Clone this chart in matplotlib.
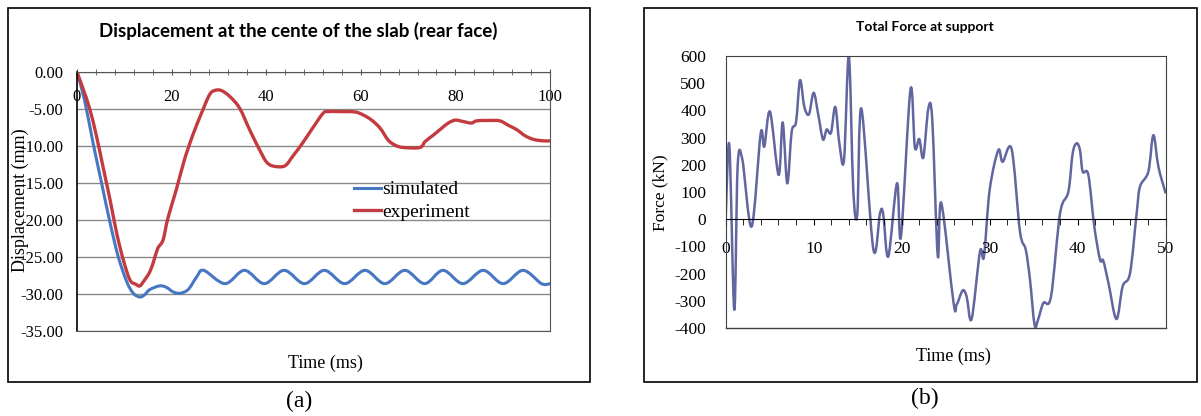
import numpy as np
import matplotlib.pyplot as plt
from matplotlib.path import Path
from matplotlib.patches import PathPatch, Rectangle
from matplotlib.lines import Line2D

plt.rcParams['font.family'] = ['Liberation Serif', 'DejaVu Serif']
plt.rcParams['axes.unicode_minus'] = False

# (a) displacement at centre of slab
t_exp = [0, 1.3, 2.7, 4.1, 5.5, 7.0, 8.4, 9.8, 11.2, 12.5, 13.3, 14.3, 15.4, 16.3,
         17.1, 18.2, 19.2, 21.0, 22.7, 24.5, 26.3, 28.0, 29.1, 30.5, 32.3, 34.4,
         36.5, 38.6, 40.0, 41.4, 43.9, 45.6, 47.7, 49.8, 52.0, 53.0, 55.5, 58.8,
         60.5, 62.3, 64.1, 65.8, 67.3, 69.0, 72.5, 73.6, 75.4, 77.1, 78.5, 80.0,
         81.7, 83.4, 84.5, 87.0, 89.4, 91.2, 93.0, 94.7, 96.5, 98.5, 100]
d_exp = [0, -2.3, -5.0, -8.6, -12.8, -17.3, -21.8, -25.4, -28.1, -28.7, -28.9, -28.1,
         -27.0, -25.4, -23.8, -22.7, -19.8, -15.9, -11.9, -8.5, -5.6, -3.1, -2.5,
         -2.5, -3.3, -4.9, -7.8, -10.5, -12.1, -12.7, -12.7, -11.4, -9.6, -7.6,
         -5.6, -5.35, -5.35, -5.4, -5.8, -6.5, -7.6, -9.2, -9.9, -10.2, -10.2, -9.4,
         -8.5, -7.6, -6.9, -6.5, -6.7, -6.9, -6.6, -6.55, -6.6, -7.2, -7.8, -8.6,
         -9.1, -9.3, -9.3]

t_sim = [0, 1.6, 3.4, 5.2, 7.0, 8.7, 10.5, 11.9, 13.3, 14.3, 15.4, 17.5, 18.9,
         20.3, 21.7, 23.5, 25.3, 26.8, 31.3, 35.4, 39.6, 43.8, 48.1, 52.3, 56.6,
         60.9, 65.1, 69.3, 73.5, 77.4, 81.6, 85.9, 90.1, 94.3, 98.2, 100]
d_sim = [0, -3.8, -9.6, -15.0, -20.4, -24.9, -28.3, -29.9, -30.4, -30.1, -29.4,
         -28.9, -29.1, -29.7, -29.9, -29.4, -27.7, -26.8, -28.6, -26.8, -28.6,
         -26.8, -28.6, -26.8, -28.6, -26.8, -28.6, -26.8, -28.6, -26.8, -28.6,
         -26.8, -28.6, -26.8, -28.6, -28.6]

# (b) total force at support
t_force = [0, 0.42, 0.98, 1.36, 1.89, 2.95, 3.98, 4.39, 5.04, 6.02, 6.48, 7.0, 7.5,
           8.0, 8.45, 8.94, 9.47, 10.0, 10.53, 11.06, 11.48, 11.97, 12.46, 12.92,
           13.45, 14.0, 14.5, 14.96, 15.42, 16.78, 17.54, 17.9, 18.48, 19.47, 19.92,
           21.0, 21.5, 22.0, 22.46, 23.03, 23.48, 24.1, 24.5, 25.9, 26.25, 26.93,
           27.38, 27.95, 28.9, 29.35, 30.0, 30.98, 31.47, 32.5, 33.44, 34.1, 34.58,
           35.1, 35.5, 36.1, 36.97, 38.0, 38.94, 39.43, 39.88, 40.26, 40.57, 41.21,
           41.89, 42.54, 42.9, 43.5, 44.4, 45.11, 45.95, 46.7, 47.08, 48.03, 48.6,
           49.17, 50.0]
f_force = [0, 273, -333, 193, 221, -27, 315, 267, 395, 163, 356, 132, 321,
           358, 511, 413, 386, 465, 383, 293, 330, 318, 413, 279,
           218, 600, 108, 20, 407, -110, 22, 20, -137, 132, -64,
           477, 264, 295, 227, 407, 364, -134, 60, -308, -314, -262,
           -284, -367, -119, -137, 108, 254, 211, 257, -45, -112, -222,
           -388, -369, -308, -284, 22, 101, 242, 279, 254, 175, 163,
           -27, -149, -152, -235, -367, -247, -198, 22, 120, 175, 309,
           193, 95]

red = '#C33B3F'
blue = '#4677C2'
slate = '#62669F'


def smooth_path(x, y):
    # Excel-like smoothed line: Catmull-Rom turned into cubic Bezier segments
    pts = np.column_stack([x, y]).astype(float)
    n = len(pts)
    verts = [pts[0]]
    codes = [Path.MOVETO]
    for i in range(n - 1):
        p0 = pts[i - 1] if i > 0 else pts[i]
        p1 = pts[i]
        p2 = pts[i + 1]
        p3 = pts[i + 2] if i + 2 < n else pts[i + 1]
        verts += [p1 + (p2 - p0) / 6, p2 - (p3 - p1) / 6, p2]
        codes += [Path.CURVE4] * 3
    return Path(verts, codes)


fig = plt.figure(figsize=(12.01, 4.16), dpi=100)

# outer boxes round each panel
for x0, w in [(0.0064, 0.4848), (0.5362, 0.4605)]:
    fig.patches.append(Rectangle((x0, 0.0817), w, 0.899, transform=fig.transFigure,
                                 fill=False, edgecolor='black', lw=1.2))

# ---- panel (a)
ax1 = fig.add_axes([0.0641, 0.2043, 0.3938, 0.6226])
ax1.add_patch(PathPatch(smooth_path(t_sim, d_sim), fill=False, edgecolor=blue,
                        lw=2.2, capstyle='round', joinstyle='round'))
ax1.add_patch(PathPatch(smooth_path(t_exp, d_exp), fill=False, edgecolor=red,
                        lw=2.4, capstyle='round', joinstyle='round'))
ax1.set_xlim(0, 100)
ax1.set_ylim(-35, 0)
yt = np.arange(-35, 1, 5)
ax1.set_yticks(yt)
ax1.set_yticklabels(['%.2f' % v for v in yt])
ax1.yaxis.grid(True, color='#8a8a8a', lw=1)
ax1.set_axisbelow(True)
ax1.tick_params(axis='y', length=0, pad=10, labelsize=12)
ax1.xaxis.set_ticks_position('top')
ax1.set_xticks(np.arange(0, 101, 20))
ax1.set_xticks(np.arange(0, 101, 4), minor=True)
ax1.tick_params(axis='x', which='both', direction='inout', length=4, color='#555555',
                labeltop=True, labelbottom=False, pad=-26, labelsize=12)
for s in ['top', 'right', 'bottom']:
    ax1.spines[s].set_color('#555555')
ax1.spines['left'].set_color('black')
ax1.spines['left'].set_linewidth(1.2)

h1 = [Line2D([], [], color=blue, lw=2.2), Line2D([], [], color=red, lw=2.4)]
ax1.legend(h1, ['simulated', 'experiment'], loc='upper left', bbox_to_anchor=(0.585, 0.58),
           frameon=False, fontsize=14, handlelength=1.4, handletextpad=0.05,
           labelspacing=0.25, borderpad=0, borderaxespad=0)

fig.text(0.248, 0.9255, 'Displacement at the cente of the slab (rear face)',
         family='Lato', weight='bold', fontsize=13.5, ha='center', va='center')
fig.text(0.2706, 0.127, 'Time (ms)', fontsize=13, ha='center', va='center')
fig.text(0.0167, 0.519, 'Displacement (mm)', fontsize=13, rotation=90,
         ha='center', va='center')
fig.text(0.249, 0.036, '(a)', fontsize=17, ha='center', va='center')

# ---- panel (b)
ax2 = fig.add_axes([0.6042, 0.2115, 0.3664, 0.6538])
ax2.add_patch(PathPatch(smooth_path(t_force, f_force), fill=False, edgecolor=slate,
                        lw=1.8, joinstyle='round'))
ax2.set_xlim(0, 50)
ax2.set_ylim(-400, 600)
ax2.set_yticks(np.arange(-400, 601, 100))
ax2.tick_params(axis='y', length=0, pad=14, labelsize=12.5)
ax2.spines['bottom'].set_position(('data', 0))
ax2.spines['bottom'].set_color('black')
ax2.add_line(Line2D([0, 1], [0, 0], transform=ax2.transAxes, color='#404040', lw=1,
                    clip_on=False))
ax2.set_xticks(np.arange(0, 51, 10))
ax2.set_xticks(np.arange(0, 51, 2), minor=True)
ax2.tick_params(axis='x', which='both', direction='out', length=4, pad=12, labelsize=12.5)
for s in ['top', 'right', 'left']:
    ax2.spines[s].set_color('#404040')

fig.text(0.770, 0.935, 'Total Force at support', family='Lato', weight='bold',
         fontsize=10, ha='center', va='center')
fig.text(0.794, 0.144, 'Time (ms)', fontsize=13, ha='center', va='center')
fig.text(0.5495, 0.536, 'Force (kN)', fontsize=12.5, rotation=90, ha='center', va='center')
fig.text(0.770, 0.042, '(b)', fontsize=17, ha='center', va='center')

fig.savefig('out.png', dpi=100)
